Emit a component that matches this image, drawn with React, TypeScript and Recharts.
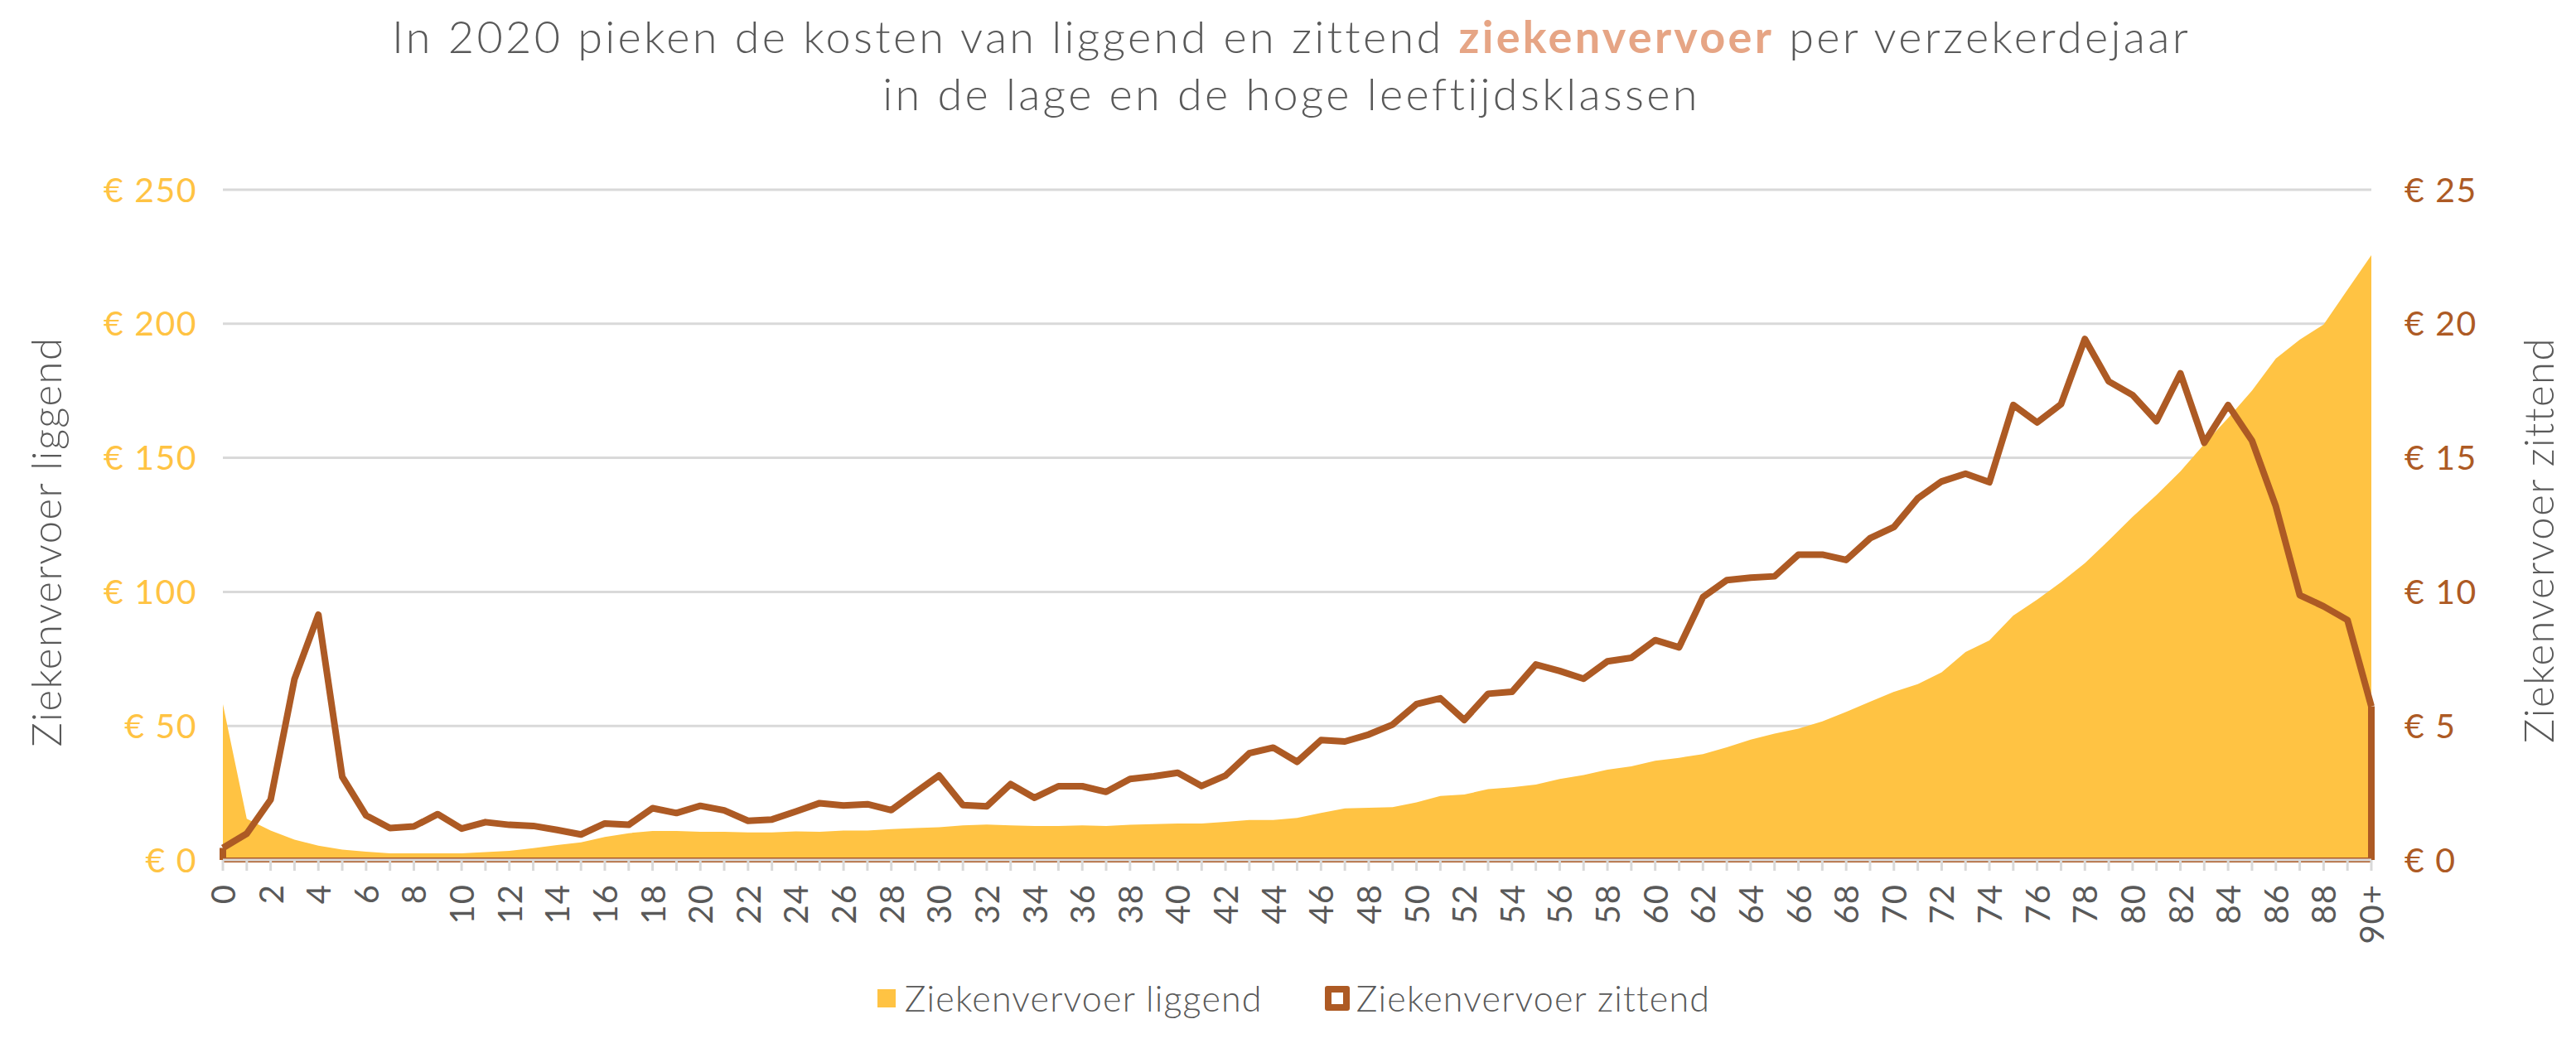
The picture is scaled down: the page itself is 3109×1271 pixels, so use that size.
import React from 'react'
import { AreaChart, Area, XAxis, YAxis, CartesianGrid, ReferenceLine } from 'recharts'

// leeftijdsklassen
const AGES: string[] = [
    '0', '1', '2', '3', '4', '5', '6', '7', '8', '9',
    '10', '11', '12', '13', '14', '15', '16', '17', '18', '19',
    '20', '21', '22', '23', '24', '25', '26', '27', '28', '29',
    '30', '31', '32', '33', '34', '35', '36', '37', '38', '39',
    '40', '41', '42', '43', '44', '45', '46', '47', '48', '49',
    '50', '51', '52', '53', '54', '55', '56', '57', '58', '59',
    '60', '61', '62', '63', '64', '65', '66', '67', '68', '69',
    '70', '71', '72', '73', '74', '75', '76', '77', '78', '79',
    '80', '81', '82', '83', '84', '85', '86', '87', '88', '89',
    '90+'
]

// kosten liggend ziekenvervoer per verzekerdejaar (linker as)
const LIGGEND: number[] = [
    58.1, 15.4, 11.0, 7.6, 5.3, 3.9, 3.1, 2.5, 2.5, 2.5,
    2.5, 2.9, 3.4, 4.4, 5.6, 6.6, 8.6, 10.0, 10.8, 10.8,
    10.5, 10.5, 10.3, 10.3, 10.7, 10.5, 11.0, 11.0, 11.5, 11.9,
    12.2, 12.9, 13.2, 12.9, 12.7, 12.7, 12.9, 12.7, 13.1, 13.4,
    13.6, 13.6, 14.2, 14.9, 14.9, 15.7, 17.5, 19.2, 19.5, 19.7,
    21.5, 23.9, 24.4, 26.4, 27.1, 28.1, 30.2, 31.7, 33.7, 34.9,
    37.0, 38.1, 39.5, 42.0, 44.9, 47.1, 49.0, 51.7, 55.2, 59.0,
    62.7, 65.6, 70.0, 77.6, 81.9, 91.2, 97.1, 103.6, 110.7, 119.2,
    128.0, 136.1, 144.9, 155.1, 164.9, 175.1, 187.0, 194.1, 199.7, 212.7,
    225.6
]

// kosten zittend ziekenvervoer per verzekerdejaar (rechter as)
const ZITTEND: number[] = [
    0.45, 0.98, 2.25, 6.75, 9.15, 3.1, 1.66, 1.19, 1.25, 1.71,
    1.17, 1.41, 1.31, 1.27, 1.12, 0.95, 1.36, 1.31, 1.93, 1.75,
    2.02, 1.85, 1.46, 1.51, 1.81, 2.12, 2.03, 2.08, 1.86, 2.51,
    3.15, 2.05, 2.0, 2.83, 2.32, 2.75, 2.75, 2.54, 3.02, 3.12,
    3.25, 2.76, 3.15, 3.98, 4.19, 3.66, 4.47, 4.42, 4.68, 5.05,
    5.81, 6.03, 5.22, 6.2, 6.27, 7.29, 7.05, 6.76, 7.41, 7.54,
    8.2, 7.93, 9.8, 10.44, 10.53, 10.58, 11.39, 11.39, 11.19, 12.0,
    12.42, 13.49, 14.12, 14.41, 14.09, 16.97, 16.32, 17.0, 19.43, 17.85,
    17.34, 16.37, 18.15, 15.56, 16.97, 15.64, 13.19, 9.88, 9.46, 8.95,
    5.73
]

const LEFT_TICKS: number[] = [0, 50, 100, 150, 200, 250]
const RIGHT_TICKS: number[] = [0, 5, 10, 15, 20, 25]

const YELLOW = '#FFC343'
const BROWN = '#AD5A24'
const GREY = '#595959'
const FONT = 'Lato, "Open Sans", sans-serif'

const data = AGES.map((age, i) => ({ age, liggend: LIGGEND[i], zittend: ZITTEND[i] }))

const AgeTick = (props: any) => {
    const { x, y, payload } = props
    const index = props.index ?? payload.index
    if (index % 2 === 1) return null
    return (
        <text
            x={x}
            y={y}
            transform={`rotate(-90, ${x}, ${y})`}
            textAnchor="end"
            dominantBaseline="central"
            fill={GREY}
            fontSize={40}
            fontFamily={FONT}
            style={{ letterSpacing: 1 }}
        >
            {payload.value}
        </text>
    )
}

const euro = (v: number) => `€ ${v}`

const axisTitle: React.CSSProperties = {
    position: 'absolute',
    transform: 'translate(-50%, -50%) rotate(-90deg)',
    fontSize: 49,
    fontWeight: 300,
    letterSpacing: 1.5,
    whiteSpace: 'nowrap',
}

const App = () => {
    const last = AGES[AGES.length - 1]
    return (
        <div
            style={{
                margin: -8,
                width: 3109,
                height: 1271,
                position: 'relative',
                boxSizing: 'border-box',
                border: '3px solid #d9d9d9',
                background: '#fff',
                fontFamily: FONT,
                color: GREY,
                overflow: 'hidden',
            }}
        >
            <div
                style={{
                    position: 'absolute',
                    top: 6,
                    left: 4,
                    width: 3103,
                    textAlign: 'center',
                    fontSize: 54,
                    letterSpacing: 3.3,
                    lineHeight: '69px',
                    fontWeight: 300,
                }}
            >
                In 2020 pieken de kosten van liggend en zittend{' '}
                <span style={{ color: '#E6A585', fontWeight: 700 }}>ziekenvervoer</span> per verzekerdejaar
                <br />
                in de lage en de hoge leeftijdsklassen
            </div>

            <AreaChart
                width={3103}
                height={1265}
                data={data}
                margin={{ top: 226, right: 0, bottom: 100, left: 0 }}
            >
                <CartesianGrid yAxisId="left" vertical={false} stroke="#d9d9d9" strokeWidth={3} />
                <XAxis
                    dataKey="age"
                    interval={0}
                    height={130}
                    padding={{ left: 0, right: 0 }}
                    axisLine={{ stroke: '#d9d9d9', strokeWidth: 3 }}
                    tickLine={{ stroke: '#d9d9d9', strokeWidth: 3 }}
                    tickSize={13}
                    tickMargin={16}
                    tick={<AgeTick />}
                />
                <YAxis
                    yAxisId="left"
                    orientation="left"
                    width={266}
                    domain={[0, 250]}
                    ticks={LEFT_TICKS}
                    tickFormatter={euro}
                    axisLine={false}
                    tickLine={false}
                    tickSize={0}
                    tickMargin={31}
                    tick={{ fill: YELLOW, fontSize: 41, fontFamily: FONT, style: { letterSpacing: 1.5 } }}
                />
                <YAxis
                    yAxisId="right"
                    orientation="right"
                    width={244}
                    domain={[0, 25]}
                    ticks={RIGHT_TICKS}
                    tickFormatter={euro}
                    axisLine={false}
                    tickLine={false}
                    tickSize={0}
                    tickMargin={40}
                    tick={{ fill: BROWN, fontSize: 41, fontFamily: FONT, style: { letterSpacing: 1.5 } }}
                />
                <Area
                    yAxisId="left"
                    type="linear"
                    dataKey="liggend"
                    name="Ziekenvervoer liggend"
                    fill={YELLOW}
                    fillOpacity={1}
                    stroke="none"
                    isAnimationActive={false}
                    activeDot={false}
                />
                <Area
                    yAxisId="right"
                    type="linear"
                    dataKey="zittend"
                    name="Ziekenvervoer zittend"
                    fill="none"
                    stroke={BROWN}
                    strokeWidth={8}
                    strokeLinejoin="round"
                    isAnimationActive={false}
                    activeDot={false}
                />
                <ReferenceLine
                    yAxisId="right"
                    segment={[{ x: AGES[0], y: 0 }, { x: last, y: 0 }]}
                    stroke={BROWN}
                    strokeWidth={6}
                    ifOverflow="visible"
                />
                <ReferenceLine
                    yAxisId="right"
                    segment={[{ x: AGES[0], y: 0 }, { x: AGES[0], y: ZITTEND[0] }]}
                    stroke={BROWN}
                    strokeWidth={8}
                    ifOverflow="visible"
                />
                <ReferenceLine
                    yAxisId="right"
                    segment={[{ x: last, y: 0 }, { x: last, y: ZITTEND[ZITTEND.length - 1] }]}
                    stroke={BROWN}
                    strokeWidth={8}
                    ifOverflow="visible"
                />
            </AreaChart>

            <div style={{ ...axisTitle, left: 52, top: 651 }}>Ziekenvervoer liggend</div>
            <div style={{ ...axisTitle, left: 3060, top: 649 }}>Ziekenvervoer zittend</div>

            <div
                style={{
                    position: 'absolute',
                    top: 1176,
                    left: 0,
                    width: 3103,
                    display: 'flex',
                    justifyContent: 'center',
                    alignItems: 'center',
                    fontSize: 43,
                    letterSpacing: 1.2,
                    fontWeight: 300,
                    lineHeight: '52px',
                    paddingLeft: 14,
                    boxSizing: 'border-box',
                }}
            >
                <span style={{ width: 22, height: 22, background: YELLOW, marginRight: 11 }} />
                <span>Ziekenvervoer liggend</span>
                <span
                    style={{
                        width: 14,
                        height: 14,
                        border: `8px solid ${BROWN}`,
                        borderRadius: 3,
                        background: '#fff',
                        marginLeft: 75,
                        marginRight: 8,
                    }}
                />
                <span>Ziekenvervoer zittend</span>
            </div>
        </div>
    )
}

export default App
